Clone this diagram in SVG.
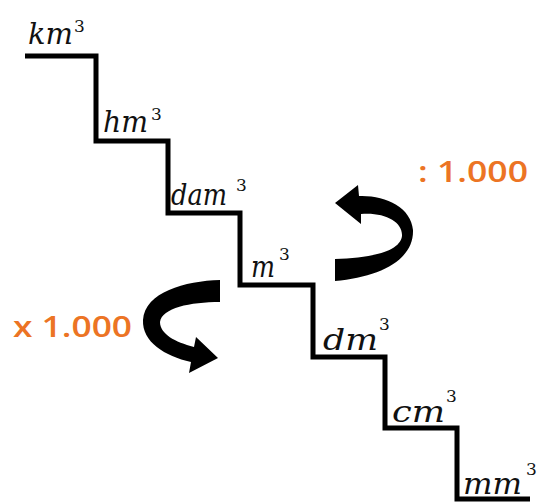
<svg xmlns="http://www.w3.org/2000/svg" width="537" height="502" viewBox="0 0 537 502">
<style>
.unit{font-family:"DejaVu Serif","Liberation Serif",serif;font-style:italic;font-size:29px;fill:#111}
.sup{font-family:"DejaVu Serif","Liberation Serif",serif;font-size:17px;fill:#111}
.op{font-family:"Open Sans","DejaVu Sans",sans-serif;font-weight:600;font-size:29px;fill:#EC7424}
.stair{fill:none;stroke:#000;stroke-width:5;stroke-linejoin:miter;stroke-linecap:butt}
.arrow{fill:#000}
</style>
<rect width="537" height="502" fill="#fff"/>
<g id="stairs">
<path class="stair" d="M25,56 H96 V141 H168 V213 H240 V285 H313 V357 H385 V428 H457 V499 H530"/>
</g>
<g id="km3"><text class="unit" x="28" y="44" textLength="45" lengthAdjust="spacingAndGlyphs">km</text><text class="sup" x="74" y="32">3</text></g>
<g id="hm3"><text class="unit" x="103" y="132" textLength="45" lengthAdjust="spacingAndGlyphs">hm</text><text class="sup" x="151" y="120">3</text></g>
<g id="dam3"><text class="unit" x="171" y="205" textLength="56" lengthAdjust="spacingAndGlyphs">dam</text><text class="sup" x="236" y="191">3</text></g>
<g id="m3"><text class="unit" x="251" y="277" textLength="24" lengthAdjust="spacingAndGlyphs">m</text><text class="sup" x="279" y="260">3</text></g>
<g id="dm3"><text class="unit" x="323" y="350" textLength="55" lengthAdjust="spacingAndGlyphs">dm</text><text class="sup" x="379" y="330">3</text></g>
<g id="cm3"><text class="unit" x="392" y="422" textLength="53" lengthAdjust="spacingAndGlyphs">cm</text><text class="sup" x="446" y="402">3</text></g>
<g id="mm3"><text class="unit" x="463" y="494" textLength="59" lengthAdjust="spacingAndGlyphs">mm</text><text class="sup" x="526" y="475">3</text></g>
<g id="divide"><text class="op" x="418" y="182" textLength="110" lengthAdjust="spacingAndGlyphs">: 1.000</text></g>
<g id="multiply"><text class="op" x="13" y="337" font-size="30" textLength="119" lengthAdjust="spacingAndGlyphs">x 1.000</text></g>
<g id="connectors">
<path class="arrow" d="M335,281 C380,277 414,260 413,230 C411,207 385,195 359,196 L358,185 L335,203 L361,224 L361,214 C385,212 403,222 402,236 C400,252 370,258 335,259 Z"/>
<path class="arrow" d="M220,280 C185,281 145,292 143,320 C142,342 165,356 191,362 L189,373 L218,358 L196,337 L194,347 C175,342 160,334 160,322 C162,308 190,302 220,302 Z"/>
</g>
</svg>
